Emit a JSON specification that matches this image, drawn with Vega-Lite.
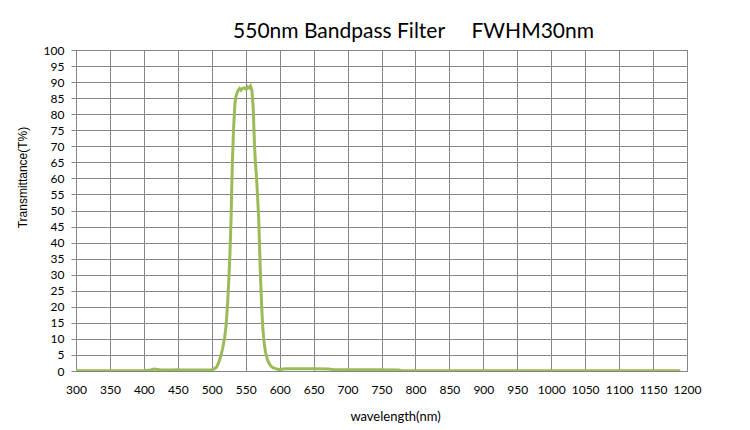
{
  "$schema": "https://vega.github.io/schema/vega-lite/v6.json",
  "autosize": {"type": "none"},
  "padding": {"left": 76, "top": 50, "right": 63, "bottom": 59},
  "width": 611,
  "height": 321,
  "background": "white",
  "config": {"view": {"stroke": "#868686", "strokeWidth": 1}},
  "title": {
    "text": "550nm Bandpass Filter\u00a0\u00a0\u00a0\u00a0\u00a0FWHM30nm",
    "font": "Lato",
    "fontSize": 21,
    "fontWeight": "normal",
    "color": "#000000",
    "anchor": "middle",
    "frame": "group",
    "baseline": "alphabetic",
    "offset": -15,
    "dx": 32
  },
  "data": {
    "values": [
      {"wl": 300, "t": 0.1}, {"wl": 350, "t": 0.1}, {"wl": 400, "t": 0.1},
      {"wl": 410, "t": 0.3}, {"wl": 415, "t": 0.6}, {"wl": 420, "t": 0.5},
      {"wl": 425, "t": 0.3}, {"wl": 440, "t": 0.3}, {"wl": 450, "t": 0.4},
      {"wl": 455, "t": 0.3}, {"wl": 480, "t": 0.3}, {"wl": 500, "t": 0.4},
      {"wl": 503, "t": 0.6}, {"wl": 507, "t": 1.2}, {"wl": 510, "t": 2.5},
      {"wl": 513, "t": 4.5}, {"wl": 516, "t": 7}, {"wl": 519, "t": 10.5},
      {"wl": 521, "t": 14}, {"wl": 523, "t": 20}, {"wl": 525, "t": 28},
      {"wl": 527, "t": 38}, {"wl": 528.5, "t": 48}, {"wl": 529.5, "t": 58},
      {"wl": 530.5, "t": 66}, {"wl": 532, "t": 75}, {"wl": 533, "t": 79},
      {"wl": 534, "t": 83}, {"wl": 535.5, "t": 85.5}, {"wl": 537, "t": 86.5},
      {"wl": 539, "t": 87.5}, {"wl": 541, "t": 88}, {"wl": 543, "t": 87.5},
      {"wl": 545, "t": 88}, {"wl": 548, "t": 88.2}, {"wl": 551, "t": 87.8},
      {"wl": 553, "t": 88.5}, {"wl": 555, "t": 88.2}, {"wl": 557, "t": 88.8},
      {"wl": 559, "t": 87.5}, {"wl": 560, "t": 85}, {"wl": 561, "t": 82},
      {"wl": 562, "t": 76}, {"wl": 563, "t": 70}, {"wl": 564, "t": 66},
      {"wl": 566, "t": 60}, {"wl": 567.5, "t": 54}, {"wl": 569, "t": 48},
      {"wl": 570.5, "t": 38}, {"wl": 572, "t": 28}, {"wl": 573.5, "t": 20},
      {"wl": 575, "t": 14}, {"wl": 577, "t": 9}, {"wl": 579, "t": 6},
      {"wl": 582, "t": 3.5}, {"wl": 586, "t": 1.8}, {"wl": 590, "t": 1.0},
      {"wl": 596, "t": 0.6}, {"wl": 600, "t": 0.4}, {"wl": 605, "t": 0.6},
      {"wl": 610, "t": 0.7}, {"wl": 650, "t": 0.7}, {"wl": 672, "t": 0.6},
      {"wl": 680, "t": 0.4}, {"wl": 700, "t": 0.4}, {"wl": 740, "t": 0.4},
      {"wl": 775, "t": 0.3}, {"wl": 780, "t": 0.1}, {"wl": 900, "t": 0.05},
      {"wl": 1190, "t": 0.05}
    ]
  },
  "mark": {"type": "line", "color": "#9BBB59", "strokeWidth": 3, "interpolate": "linear", "clip": true},
  "encoding": {
    "x": {
      "field": "wl",
      "type": "quantitative",
      "scale": {"domain": [300, 1200], "nice": false},
      "axis": {
        "title": "wavelength(nm)",
        "values": [300,350,400,450,500,550,600,650,700,750,800,850,900,950,1000,1050,1100,1150,1200],
        "format": "d",
        "grid": true,
        "gridColor": "#868686",
        "gridOpacity": 1,
        "domainColor": "#868686",
        "ticks": false,
        "tickSize": 0,
        "labelPadding": 13,
        "labelFont": "Lato",
        "labelFontSize": 12,
        "labelColor": "#000000",
        "labelBaseline": "top",
        "labelFlush": false,
        "titleFont": "Lato",
        "titleFontSize": 13,
        "titleFontWeight": "normal",
        "titleColor": "#000000",
        "titleX": 319,
        "titleY": 39,
        "titleBaseline": "top"
      }
    },
    "y": {
      "field": "t",
      "type": "quantitative",
      "scale": {"domain": [0, 100], "nice": false},
      "axis": {
        "title": "Transmittance(T%)",
        "values": [0,5,10,15,20,25,30,35,40,45,50,55,60,65,70,75,80,85,90,95,100],
        "grid": true,
        "gridColor": "#868686",
        "gridOpacity": 1,
        "domainColor": "#868686",
        "tickColor": "#868686",
        "tickSize": 5,
        "labelPadding": 7,
        "labelFont": "Lato",
        "labelFontSize": 12,
        "labelColor": "#000000",
        "labelFlush": false,
        "titleFont": "Liberation Sans",
        "titleFontSize": 12,
        "titleFontWeight": "normal",
        "titleColor": "#000000",
        "titleX": -54,
        "titleY": 127,
        "titleAngle": -90,
        "titleBaseline": "middle"
      }
    }
  }
}
